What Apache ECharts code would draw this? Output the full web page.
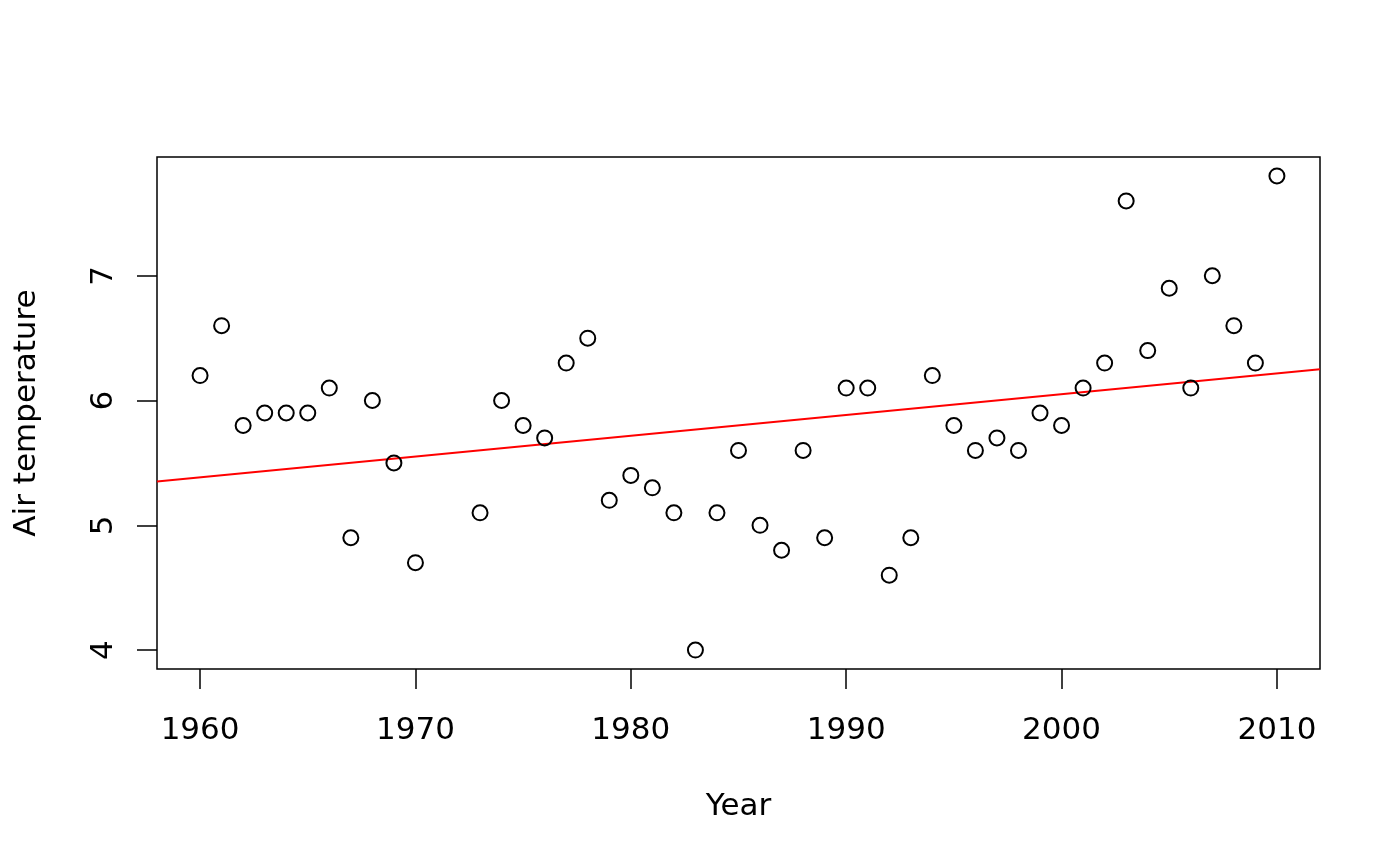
<!DOCTYPE html>
<html lang="en">
<head>
    <meta charset="UTF-8">
    <title>Air temperature</title>
    <style>
        html, body { margin: 0; padding: 0; background: #fff; }
    </style>
</head>
<body>
    <div id="main" style="width: 1400px;height:866px;"></div>
    <script src="https://cdn.jsdelivr.net/npm/echarts@6/dist/echarts.min.js"></script>
    <script>
    // yearly mean air temperature (1971, 1972 missing)
    var years = [1960, 1961, 1962, 1963, 1964, 1965, 1966, 1967, 1968, 1969, 1970,
                 1973, 1974, 1975, 1976, 1977, 1978, 1979, 1980, 1981, 1982, 1983,
                 1984, 1985, 1986, 1987, 1988, 1989, 1990, 1991, 1992, 1993, 1994,
                 1995, 1996, 1997, 1998, 1999, 2000, 2001, 2002, 2003, 2004, 2005,
                 2006, 2007, 2008, 2009, 2010];
    var temps = [6.2, 6.6, 5.8, 5.9, 5.9, 5.9, 6.1, 4.9, 6.0, 5.5, 4.7,
                 5.1, 6.0, 5.8, 5.7, 6.3, 6.5, 5.2, 5.4, 5.3, 5.1, 4.0,
                 5.1, 5.6, 5.0, 4.8, 5.6, 4.9, 6.1, 6.1, 4.6, 4.9, 6.2,
                 5.8, 5.6, 5.7, 5.6, 5.9, 5.8, 6.1, 6.3, 7.6, 6.4, 6.9,
                 6.1, 7.0, 6.6, 6.3, 7.8];
    // fitted trend line, ends
    var trendX = [1958, 2012];
    var trendY = [5.35, 6.25];

    var xTicks = [1960, 1970, 1980, 1990, 2000, 2010];
    var yTicks = [4, 5, 6, 7];

    var points = [];
    for (var i = 0; i < years.length; i++) {
        points.push([years[i], temps[i]]);
    }
    var trend = [[trendX[0], trendY[0]], [trendX[1], trendY[1]]];

    var font = 'DejaVu Sans';
    var myChart = echarts.init(document.getElementById('main'));
    var option = {
        animation: false,
        backgroundColor: '#fff',
        grid: {
            left: 157,
            right: 80,
            top: 157,
            bottom: 197,
            show: true,
            borderColor: '#000',
            borderWidth: 1.5,
            backgroundColor: 'transparent'
        },
        xAxis: {
            type: 'value',
            min: 1958,
            max: 2012,
            name: 'Year',
            nameLocation: 'middle',
            nameGap: 122,
            nameTextStyle: { fontFamily: font, fontSize: 31, color: '#000' },
            axisLine: { show: false },
            axisTick: {
                show: true,
                length: 20,
                customValues: xTicks,
                lineStyle: { color: '#000', width: 1.5 }
            },
            axisLabel: {
                customValues: xTicks,
                margin: 46,
                fontFamily: font,
                fontSize: 31,
                color: '#000',
                formatter: function (v) { return String(v); }
            },
            splitLine: { show: false }
        },
        yAxis: {
            type: 'value',
            min: 3.848,
            max: 7.952,
            name: 'Air temperature',
            nameLocation: 'middle',
            nameGap: 115,
            nameTextStyle: { fontFamily: font, fontSize: 31, color: '#000' },
            axisLine: { show: false },
            axisTick: {
                show: true,
                length: 20,
                customValues: yTicks,
                lineStyle: { color: '#000', width: 1.5 }
            },
            axisLabel: {
                customValues: yTicks,
                rotate: 90,
                margin: 38,
                fontFamily: font,
                fontSize: 31,
                color: '#000'
            },
            splitLine: { show: false }
        },
        series: [
            {
                type: 'scatter',
                data: points,
                symbol: 'circle',
                symbolSize: 15,
                itemStyle: {
                    color: 'transparent',
                    borderColor: '#000',
                    borderWidth: 2,
                    opacity: 1
                },
                z: 3
            },
            {
                type: 'line',
                data: trend,
                showSymbol: false,
                symbol: 'none',
                lineStyle: { color: '#ff0000', width: 2 },
                z: 2
            }
        ]
    };
    myChart.setOption(option);
    </script>
</body>
</html>
